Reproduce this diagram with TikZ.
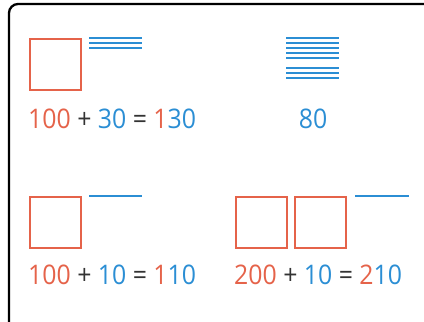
\documentclass[tikz,border=0pt]{standalone}
\usepackage{fontspec}
\setmainfont[FakeStretch=0.92]{Open Sans}
\usepackage{tikz}
\usetikzlibrary{positioning}
\usepackage{xcolor}
\definecolor{hundredred}{HTML}{E5634A}
\definecolor{tenblue}{HTML}{2B8ED4}
\definecolor{signgray}{HTML}{333333}

\newcommand{\hun}[1]{\textcolor{hundredred}{#1}}
\newcommand{\ten}[1]{\textcolor{tenblue}{#1}}
\newcommand{\sgn}[1]{\textcolor{signgray}{#1}}

\begin{document}
\begin{tikzpicture}[
    x=1pt, y=-1pt,
    hundred/.style={draw=hundredred, line width=2pt, minimum size=51pt, inner sep=0pt},
    tenrod/.style={draw=tenblue, line width=2pt},
    sum/.style={font=\fontsize{27}{32}\selectfont, inner sep=0pt, anchor=base west},
    frame/.style={draw=black, line width=2.3pt, rounded corners=9pt}
  ]
  \useasboundingbox (0,0) rectangle (424,322);
  \clip (0,0) rectangle (424,322);
  \draw[frame] (9,4) rectangle (460,360);

  % 100 + 30
  \node[hundred] (sqA) at (55.5,64) {};
  \foreach \y in {38,43,48}
    \draw[tenrod] (89,\y) -- ++(53,0);
  \node[sum] (eqA) at (28,128) {\hun{100} \sgn{+} \ten{30} \sgn{=} \hun{1}\ten{30}};

  % 80
  \foreach \y in {38,43.1,48.2,53.3,58.4,68,73.1,78.2}
    \draw[tenrod] (286,\y) -- ++(53,0);
  \node[sum, anchor=base] (eqB) at (313,128) {\ten{80}};

  % 100 + 10
  \node[hundred] (sqB) at (55.5,222) {};
  \draw[tenrod] (89,196) -- ++(53,0);
  \node[sum] (eqC) at (28,284) {\hun{100} \sgn{+} \ten{10} \sgn{=} \hun{1}\ten{10}};

  % 200 + 10
  \node[hundred] (sqC) at (261.5,222) {};
  \node[hundred, right=6pt of sqC] (sqD) {};
  \draw[tenrod] (355,196) -- ++(54,0);
  \node[sum] (eqD) at (234,284) {\hun{200} \sgn{+} \ten{10} \sgn{=} \hun{2}\ten{10}};
\end{tikzpicture}
\end{document}
